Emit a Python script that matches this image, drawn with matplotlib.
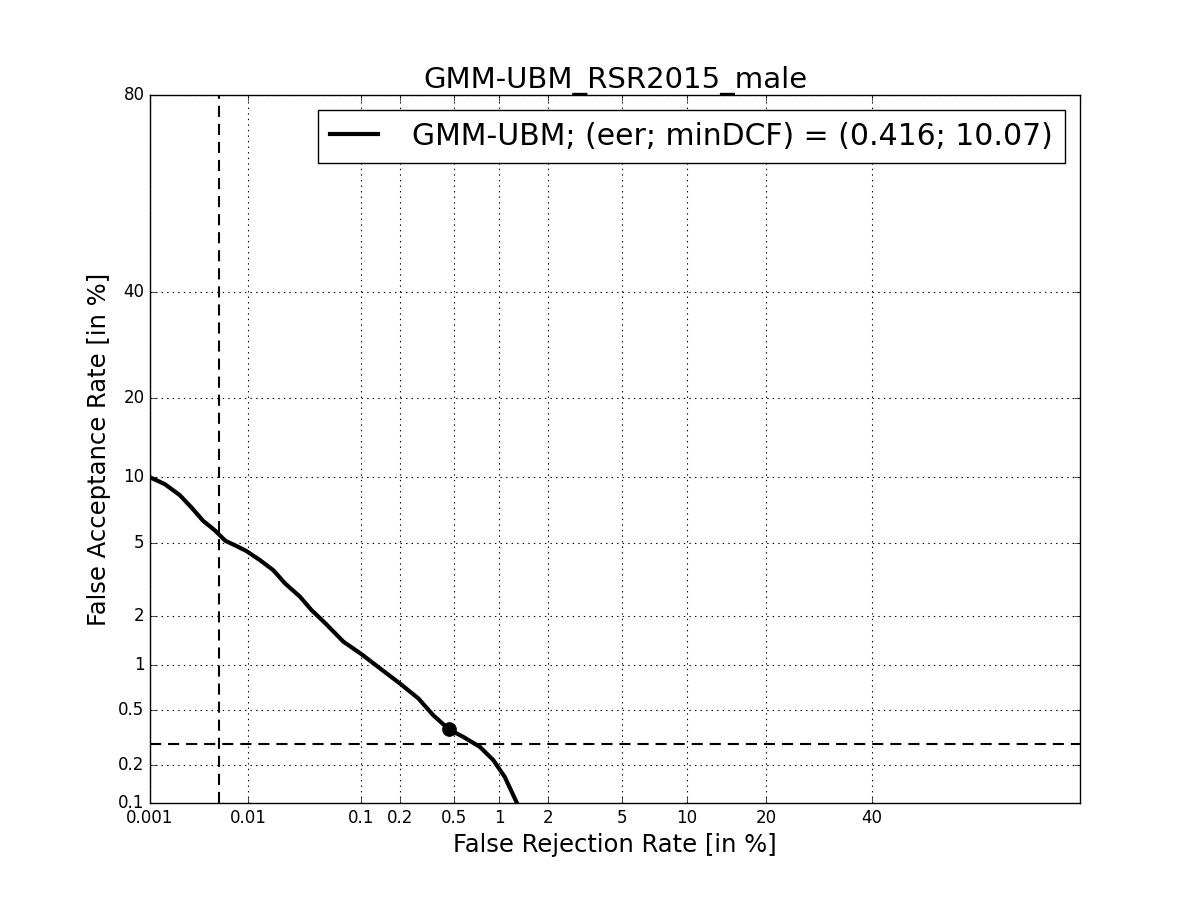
import matplotlib
matplotlib.use('Agg')
import matplotlib.pyplot as plt
from statistics import NormalDist

plt.style.use('classic')

# DET curve points (in %)
frr = [0.001, 0.00144, 0.00207, 0.00273, 0.0036, 0.0047, 0.0060, 0.0074,
       0.0096, 0.0129, 0.0172, 0.022, 0.030, 0.038, 0.050, 0.0625,
       0.071, 0.100, 0.141, 0.201, 0.277, 0.356, 0.461, 0.58,
       0.75, 0.92, 1.09, 1.29]
far = [10.0, 9.35, 8.37, 7.37, 6.38, 5.76, 5.11, 4.86,
       4.54, 4.08, 3.61, 3.07, 2.59, 2.17, 1.82, 1.55,
       1.41, 1.18, 0.956, 0.762, 0.604, 0.462, 0.366, 0.323,
       0.273, 0.217, 0.161, 0.102]

eer_point = (0.461, 0.366)
frr_line = 0.0052   # vertical dashed line
far_line = 0.289    # horizontal dashed line

x_ticks = [0.001, 0.01, 0.1, 0.2, 0.5, 1, 2, 5, 10, 20, 40]
x_labels = ['0.001', '0.01', '0.1', '0.2', '0.5', '1', '2', '5', '10', '20', '40']
y_ticks = [0.1, 0.2, 0.5, 1, 2, 5, 10, 20, 40, 80]
y_labels = ['0.1', '0.2', '0.5', '1', '2', '5', '10', '20', '40', '80']

label = 'GMM-UBM; (eer; minDCF) = (0.416; 10.07)'

nd = NormalDist()


def ppndf(p):
    # percent -> probit
    return nd.inv_cdf(p / 100.0)


fig = plt.figure(figsize=(12, 9), dpi=100, facecolor='white')
ax = fig.add_axes([0.125, 0.1078, 0.775, 0.7867])

ax.plot([ppndf(v) for v in frr], [ppndf(v) for v in far], color='k', lw=3,
        solid_joinstyle='round', label=label)
ax.plot(ppndf(eer_point[0]), ppndf(eer_point[1]), 'ko', ms=10)
ax.axvline(ppndf(frr_line), color='k', ls='--', lw=1.5, dashes=(8, 5))
ax.axhline(ppndf(far_line), color='k', ls='--', lw=1.5, dashes=(8, 5))

x_lo = ppndf(0.001)
ax.set_xlim(x_lo, x_lo + 930 / 180.0)
ax.set_ylim(ppndf(0.1), ppndf(80))
ax.set_xticks([ppndf(v) for v in x_ticks])
ax.set_xticklabels(x_labels, fontsize=12)
ax.set_yticks([ppndf(v) for v in y_ticks])
ax.set_yticklabels(y_labels, fontsize=12)
ax.grid(True, color='k', ls=':', lw=0.8)

ax.set_xlabel('False Rejection Rate [in %]', fontsize=17.5)
ax.set_ylabel('False Acceptance Rate [in %]', fontsize=17.5)
ax.set_title('GMM-UBM_RSR2015_male', fontsize=21)

leg = ax.legend(loc='upper right', fontsize=21.5, numpoints=1, handlelength=1.6,
                handletextpad=1.15, borderaxespad=0.5)
leg.get_frame().set_edgecolor('k')

fig.savefig('out.png', dpi=100, facecolor='white')
